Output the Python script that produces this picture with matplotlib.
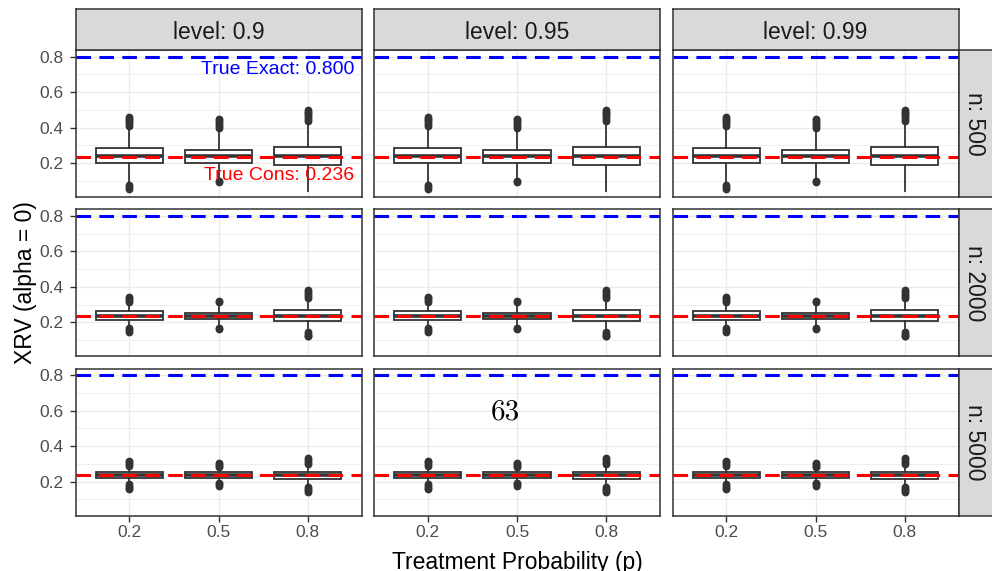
import matplotlib
matplotlib.use("Agg")
import matplotlib.pyplot as plt

plt.rcParams['font.family'] = ['Liberation Sans', 'DejaVu Sans']
plt.rcParams['lines.scale_dashes'] = False

# ---------------- data ----------------
levels = ["0.9", "0.95", "0.99"]
n_values = [500, 2000, 5000]
p_labels = ["0.2", "0.5", "0.8"]
y_ticks = [0.2, 0.4, 0.6, 0.8]
y_minor = [0.1, 0.3, 0.5, 0.7]
true_exact = 0.800
true_cons = 0.236

# box statistics per n (one entry per p)
q1_500 = [0.200, 0.200, 0.190]
med_500 = [0.237, 0.237, 0.237]
q3_500 = [0.285, 0.275, 0.288]
whislo_500 = [0.085, 0.115, 0.042]
whishi_500 = [0.405, 0.388, 0.425]
fliers_500 = [
    [0.41, 0.42, 0.43, 0.44, 0.45, 0.46, 0.055, 0.065, 0.075],
    [0.40, 0.41, 0.42, 0.43, 0.44, 0.45, 0.09, 0.10],
    [0.435, 0.45, 0.46, 0.47, 0.48, 0.49, 0.50],
]

q1_2000 = [0.215, 0.217, 0.207]
med_2000 = [0.236, 0.236, 0.236]
q3_2000 = [0.262, 0.253, 0.268]
whislo_2000 = [0.180, 0.182, 0.166]
whishi_2000 = [0.296, 0.290, 0.315]
fliers_2000 = [
    [0.315, 0.325, 0.335, 0.340, 0.165, 0.155, 0.148],
    [0.315, 0.322, 0.160, 0.166],
    [0.338, 0.350, 0.360, 0.370, 0.380, 0.145, 0.135, 0.125, 0.120],
]

q1_5000 = [0.222, 0.222, 0.214]
med_5000 = [0.236, 0.236, 0.236]
q3_5000 = [0.253, 0.252, 0.255]
whislo_5000 = [0.195, 0.197, 0.178]
whishi_5000 = [0.280, 0.277, 0.295]
fliers_5000 = [
    [0.288, 0.300, 0.310, 0.318, 0.187, 0.175, 0.165, 0.157],
    [0.281, 0.290, 0.300, 0.304, 0.194, 0.185, 0.175],
    [0.300, 0.310, 0.320, 0.334, 0.170, 0.160, 0.150, 0.142],
]

rows = [
    (q1_500, med_500, q3_500, whislo_500, whishi_500, fliers_500),
    (q1_2000, med_2000, q3_2000, whislo_2000, whishi_2000, fliers_2000),
    (q1_5000, med_5000, q3_5000, whislo_5000, whishi_5000, fliers_5000),
]

# ---------------- layout ----------------
W, H = 992, 571
fig = plt.figure(figsize=(W / 100, H / 100), dpi=100)


def fx(px):
    return px / W


def fy(px):
    return 1 - px / H


col_left = [75.5, 374.0, 672.5]
col_w = 286.0
row_top = [50.0, 209.3, 368.6]
row_h = 147.0
strip = 40.7

dark = '#333333'
grid_c = '#EBEBEB'
tick_c = '#4D4D4D'
positions = list(range(1, len(p_labels) + 1))

for r in range(3):
    q1, med, q3, wlo, whi, fl = rows[r]
    stats = []
    for i in range(len(p_labels)):
        stats.append(dict(med=med[i], q1=q1[i], q3=q3[i], whislo=wlo[i],
                          whishi=whi[i], fliers=fl[i]))
    for c in range(3):
        ax = fig.add_axes([fx(col_left[c]), fy(row_top[r] + row_h), col_w / W, row_h / H])
        ax.set_xlim(0.4, 3.6)
        ax.set_ylim(0.008, 0.838)
        ax.set_axisbelow(True)
        for v in y_minor:
            ax.axhline(v, color=grid_c, lw=0.55, zorder=0)
        for v in y_ticks:
            ax.axhline(v, color=grid_c, lw=1.0, zorder=0)
        for v in positions:
            ax.axvline(v, color=grid_c, lw=1.0, zorder=0)

        ax.bxp(stats, positions=positions, widths=0.75, patch_artist=True,
               showcaps=False, manage_ticks=False,
               boxprops=dict(facecolor='white', edgecolor=dark, linewidth=1.3),
               medianprops=dict(color=dark, linewidth=2.6),
               whiskerprops=dict(color=dark, linewidth=1.3),
               flierprops=dict(marker='o', markerfacecolor=dark, markeredgecolor=dark,
                               markersize=4.6))

        ax.axhline(true_exact, color='#0000FF', lw=2.2, dashes=(10.5, 6.0),
                   solid_capstyle='butt', dash_capstyle='butt', zorder=5)
        ax.axhline(true_cons, color='#FF0000', lw=2.2, dashes=(10.5, 6.0),
                   solid_capstyle='butt', dash_capstyle='butt', zorder=5)

        for s in ax.spines.values():
            s.set_color(dark)
            s.set_linewidth(1.1)
            s.set_zorder(6)

        ax.set_yticks(y_ticks)
        ax.set_xticks(positions)
        if c == 0:
            ax.set_yticklabels([f"{v:.1f}" for v in y_ticks])
            ax.tick_params(axis='y', length=4.0, width=1.0, color=dark, pad=4.8,
                           labelsize=12.5, labelcolor=tick_c)
        else:
            ax.tick_params(axis='y', length=0, labelleft=False)
        if r == 2:
            ax.set_xticklabels(p_labels)
            ax.tick_params(axis='x', length=4.0, width=1.0, color=dark, pad=2.7,
                           labelsize=12.5, labelcolor=tick_c)
        else:
            ax.tick_params(axis='x', length=0, labelbottom=False)

        if r == 0 and c == 0:
            ax.annotate(f"True Exact: {true_exact:.3f}", xy=(1, true_exact),
                        xycoords=('axes fraction', 'data'), xytext=(-5.4, -12.5),
                        textcoords='offset points', ha='right', va='baseline',
                        color='#0000FF', fontsize=14, zorder=7)
            ax.annotate(f"True Cons: {true_cons:.3f}", xy=(1, true_cons),
                        xycoords=('axes fraction', 'data'), xytext=(-5.4, -17.1),
                        textcoords='offset points', ha='right', va='baseline',
                        color='#FF0000', fontsize=14, zorder=7)

# top strips
for c in range(3):
    sax = fig.add_axes([fx(col_left[c]), fy(row_top[0]), col_w / W, strip / H])
    sax.set_facecolor('#D9D9D9')
    sax.set_xticks([])
    sax.set_yticks([])
    for s in sax.spines.values():
        s.set_color(dark)
        s.set_linewidth(1.1)
    fig.text(fx(col_left[c] + col_w / 2), fy(39.3), f"level: {levels[c]}",
             ha='center', va='baseline', fontsize=16.5, color='#1A1A1A')

# right strips
for r in range(3):
    sax = fig.add_axes([fx(col_left[2] + col_w), fy(row_top[r] + row_h), strip / W, row_h / H])
    sax.set_facecolor('#D9D9D9')
    sax.set_xticks([])
    sax.set_yticks([])
    for s in sax.spines.values():
        s.set_color(dark)
        s.set_linewidth(1.1)
    fig.text(fx(968.0), fy(row_top[r] + row_h / 2), f"n: {n_values[r]}",
             ha='center', va='baseline', rotation=-90, rotation_mode='anchor',
             fontsize=16.5, color='#1A1A1A')

# axis titles
fig.text(fx(517), fy(569), "Treatment Probability (p)", ha='center', va='baseline',
         fontsize=16.5, color='black')
fig.text(fx(31.7), fy((row_top[0] + row_top[2] + row_h) / 2), "XRV (alpha = 0)",
         ha='center', va='baseline', rotation=90, rotation_mode='anchor',
         fontsize=16.5, color='black')

# page number overlay
fig.text(fx(505), fy(420), "63", ha='center', va='baseline', fontsize=21,
         family='cmr10', color='black')

fig.savefig("out.png", dpi=100)
